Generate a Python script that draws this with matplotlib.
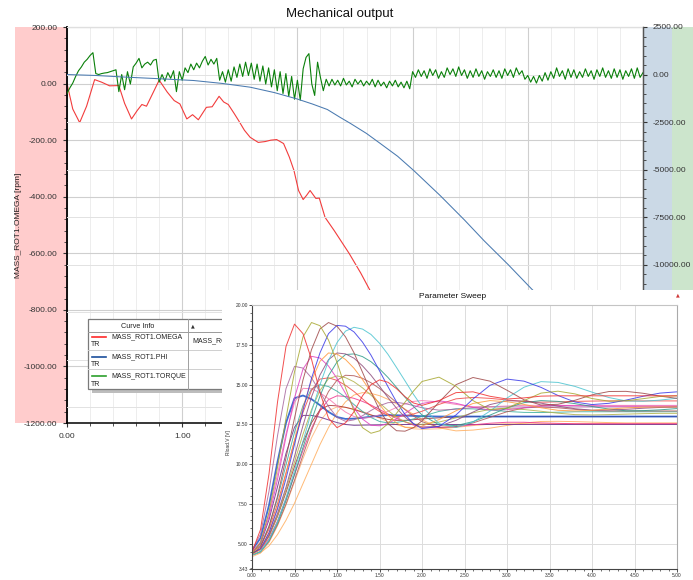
import matplotlib
matplotlib.use('Agg')
import matplotlib.pyplot as plt
from matplotlib.patches import Rectangle
from matplotlib.ticker import MultipleLocator, FormatStrFormatter, FixedLocator
import numpy as np

plt.rcParams['font.family'] = ['Liberation Sans', 'DejaVu Sans']

# ---------------- main chart data ----------------
omega_t = [0, 0.05, 0.11, 0.17, 0.24, 0.30, 0.37, 0.45, 0.50, 0.56, 0.61, 0.65, 0.69, 0.75, 0.80,
           0.87, 0.93, 0.98, 1.04, 1.09, 1.14, 1.21, 1.26, 1.32, 1.36, 1.40, 1.45, 1.49, 1.54, 1.59,
           1.66, 1.72, 1.77, 1.82, 1.88, 1.93, 1.97, 2.01, 2.05, 2.08, 2.11, 2.16, 2.19, 2.24, 2.32,
           2.45, 2.55, 2.63, 2.80, 3.00]
omega = [0, -90, -138, -80, 14, 5, -8, -7, -70, -125, -95, -74, -80, -30, 12,
         -30, -60, -72, -125, -110, -128, -84, -82, -45, -65, -74, -105, -131, -165, -190,
         -208, -205, -200, -198, -212, -260, -307, -378, -410, -395, -378, -406, -405, -473, -520,
         -601, -670, -731, -830, -960]

phi_t = [0, 0.25, 0.52, 0.8, 1.1, 1.35, 1.59, 1.8, 2.0, 2.13, 2.26, 2.37, 2.46, 2.6, 2.72, 2.87,
         3.01, 3.24, 3.45, 3.62, 3.83, 4.03, 4.3]
phi = [0, -50, -140, -220, -315, -470, -666, -950, -1290, -1550, -1840, -2250, -2570, -3100, -3630,
       -4300, -5050, -6370, -7650, -8740, -10000, -11260, -12900]

torque_dt = 0.025
torque = [
    -1000, -700, -450, -100, 200, 400, 650, 800, 1000, 1150,
    50, 0, 50, 80, 100, 150, 200, 250,
    -900, 0, -800, 150, -500, 400, 600, 850, 350, 550,
    650, 500, 750, 800, -400, 0, -350, 100, -200, 200,
    -900, 150, -300, 350, 100, 550, 250, 600, 350, 700,
    950, 500, 800, 550, 850, -300, 150, -400, 250, -350,
    400, -150, 550, -100, 650, -50, 600, -250, 550, -350,
    450, -500, 350, -650, 250, -850, 150, -1000, 50, -1150,
    -100, -1300, -300, -1350, 300, 900, 1100, -500, -1100, 650,
    -150, -850, -250, -600, -250, -550, -300, -600, -200, -550,
    -350, -650, -250, -500, -300, -600, -350, -550, -250, -650,
    -300, -600, -400, -700, -350, -600, -300, -650, -400, -700,
    -350, -750, 150, -150, 250, -100, 200, -200, 300, -50,
    250, -200, 150, -150, 350, 0, 300, -100, 400, -50,
    250, -200, 200, -150, 300, -100, 200, -250, 150, -100,
    250, -150, 200, -200, 300, -50, 250, -150, 350, 0,
    200, -250, -50, -400, -100, -450, -50, -350, 100, -300,
    150, -200, 350, -100, 200, -250, 300, -150, 250, -200,
    150, -150, 300, -100, 200, -250, 250, -100, 350, -150,
    200, -200, 300, -150, 250, -250, 200, -100, 300, -200,
    350, -150, 100]

left_ticks = [-1200, -1000, -800, -600, -400, -200, 0, 200]
right_ticks = [-17500, -15000, -12500, -10000, -7500, -5000, -2500, 0, 2500]

legend_names = ['MASS_ROT1.OMEGA', 'MASS_ROT1.PHI', 'MASS_ROT1.TORQUE']

# ---------------- inset (parameter sweep) data ----------------
sweep_t = [0, 0.1, 0.2, 0.3, 0.4, 0.5, 0.6, 0.7, 0.8, 0.9, 1.0, 1.1, 1.2, 1.3, 1.4, 1.5, 1.6, 1.7,
           1.8, 1.9, 2.0, 2.2, 2.4, 2.6, 2.8, 3.0, 3.2, 3.4, 3.6, 3.8, 4.0, 4.2, 4.4, 4.6, 4.8, 5.0]
sw_red = [4.5, 5.9, 9.4, 13.9, 17.4, 18.8, 18.2, 16.6, 14.5, 12.9, 12.3, 12.6, 13.3, 14.3, 15.0, 15.3, 15.15, 14.75, 14.25, 13.85, 13.7,
          14.0, 14.5, 14.55, 14.27, 14.1, 14.17, 14.28, 14.3, 14.3, 14.3, 14.3, 14.3, 14.3, 14.3, 14.3]
sw_olive = [4.4, 5.1, 7.0, 9.8, 12.9, 15.8, 18.0, 18.9, 18.7, 17.8, 16.4, 14.8, 13.35, 12.3, 11.95, 12.1, 12.55, 13.2, 13.9, 14.6, 15.2,
            15.47, 14.9, 14.0, 13.43, 13.53, 14.0, 14.47, 14.59, 14.42, 14.13, 13.96, 13.99, 14.12, 14.26, 14.3]
sw_brown = [4.4, 4.8, 6.1, 8.0, 10.4, 12.9, 15.3, 17.2, 18.5, 18.9, 18.67, 18.0, 17.0, 15.78, 14.54, 13.42, 12.56, 12.11, 12.08, 12.3, 12.73,
            13.9, 15.0, 15.45, 15.22, 14.65, 14.05, 13.72, 13.77, 14.02, 14.36, 14.57, 14.58, 14.46, 14.28, 14.14]
sw_blue = [4.4, 4.7, 5.7, 7.2, 9.1, 11.25, 13.4, 15.4, 17.0, 18.2, 18.72, 18.67, 18.31, 17.67, 16.85, 15.87, 14.87, 13.92, 13.13, 12.55, 12.24,
           12.38, 13.1, 14.1, 14.96, 15.35, 15.22, 14.83, 14.32, 13.91, 13.75, 13.83, 14.03, 14.27, 14.47, 14.55]
sw_cyan = [4.3, 4.5, 5.26, 6.4, 7.9, 9.6, 11.45, 13.3, 15.0, 16.5, 17.64, 18.36, 18.6, 18.49, 18.15, 17.6, 16.9, 16.08, 15.24, 14.39, 13.62,
           12.56, 12.31, 12.65, 13.34, 14.16, 14.84, 15.19, 15.14, 14.89, 14.53, 14.19, 13.98, 13.96, 14.03, 14.15]
sw_orange = [4.3, 4.67, 5.71, 7.32, 9.38, 11.5, 13.57, 15.25, 16.47, 16.99, 16.92, 16.58, 16.03, 15.32, 14.53, 13.76, 13.08, 12.59, 12.33, 12.31, 12.4,
             12.81, 13.36, 13.82, 14.0, 13.93, 13.76, 13.55, 13.39, 13.35, 13.39, 13.47, 13.54, 13.59, 13.6, 13.6]
sw_plum = [4.4, 4.69, 5.55, 6.92, 8.56, 10.5, 12.43, 14.23, 15.61, 16.57, 16.99, 16.93, 16.66, 16.18, 15.59, 14.9, 14.19, 13.52, 12.96, 12.54, 12.33,
           12.39, 12.76, 13.28, 13.75, 13.99, 13.97, 13.84, 13.65, 13.49, 13.4, 13.41, 13.45, 13.52, 13.57, 13.6]
sw_teal = [4.3, 4.53, 5.21, 6.31, 7.72, 9.36, 11.06, 12.75, 14.29, 15.57, 16.42, 16.89, 16.93, 16.76, 16.44, 15.99, 15.45, 14.83, 14.21, 13.63, 13.1,
           12.48, 12.43, 12.68, 13.09, 13.54, 13.87, 14.0, 13.95, 13.81, 13.63, 13.47, 13.36, 13.37, 13.42, 13.5]
sw_magenta = [4.5, 5.07, 6.7, 9.05, 11.72, 14.17, 15.98, 16.78, 16.67, 16.17, 15.39, 14.45, 13.54, 12.84, 12.45, 12.42, 12.57, 12.85, 13.2, 13.55, 13.82,
              13.99, 13.83, 13.57, 13.41, 13.43, 13.55, 13.67, 13.7, 13.68, 13.66, 13.65, 13.65, 13.65, 13.65, 13.65]
sw_mauve = [4.6, 5.62, 8.31, 11.79, 14.75, 16.15, 16.04, 15.43, 14.54, 13.63, 12.95, 12.7, 12.79, 13.05, 13.38, 13.68, 13.87, 13.89, 13.81, 13.69, 13.55,
            13.4, 13.46, 13.56, 13.6, 13.6, 13.6, 13.6, 13.6, 13.6, 13.6, 13.6, 13.6, 13.6, 13.6, 13.6]
sw_olive2 = [4.4, 4.68, 5.5, 6.77, 8.39, 10.15, 11.89, 13.43, 14.64, 15.37, 15.55, 15.44, 15.18, 14.8, 14.34, 13.85, 13.38, 12.96, 12.67, 12.52, 12.51,
             12.65, 12.92, 13.23, 13.45, 13.5, 13.44, 13.33, 13.21, 13.12, 13.1, 13.12, 13.15, 13.18, 13.2, 13.2]
sw_brown2 = [4.3, 4.51, 5.16, 6.2, 7.5, 9.0, 10.58, 12.11, 13.45, 14.57, 15.28, 15.59, 15.56, 15.4, 15.12, 14.76, 14.33, 13.88, 13.43, 13.03, 12.68,
             12.32, 12.36, 12.6, 12.95, 13.3, 13.54, 13.6, 13.55, 13.45, 13.38, 13.35, 13.35, 13.35, 13.35, 13.35]
sw_red2 = [4.5, 4.87, 5.93, 7.53, 9.48, 11.48, 13.26, 14.64, 15.35, 15.43, 15.27, 14.96, 14.57, 14.11, 13.66, 13.32, 13.08, 13.0, 13.04, 13.16, 13.33,
           13.76, 14.11, 14.2, 14.14, 14.04, 13.94, 13.9, 13.92, 13.95, 13.97, 13.98, 13.98, 13.98, 13.98, 13.98]
sw_orange2 = [4.3, 4.45, 4.88, 5.59, 6.49, 7.56, 8.79, 10.01, 11.24, 12.31, 13.23, 13.92, 14.35, 14.5, 14.45, 14.31, 14.08, 13.8, 13.47, 13.13, 12.8,
              12.29, 12.1, 12.15, 12.27, 12.44, 12.59, 12.69, 12.7, 12.68, 12.65, 12.62, 12.6, 12.6, 12.6, 12.6]
sw_blue2 = [4.6, 5.37, 7.43, 10.16, 12.6, 14.15, 14.32, 14.09, 13.71, 13.29, 12.97, 12.85, 12.87, 12.92, 12.99, 13.05, 13.09, 13.08, 13.06, 13.04, 13.02,
            13.0, 13.0, 13.0, 13.0, 13.0, 13.0, 13.0, 13.0, 13.0, 13.0, 13.0, 13.0, 13.0, 13.0, 13.0]
sw_pink = [4.4, 4.64, 5.34, 6.44, 7.82, 9.35, 10.88, 12.26, 13.36, 14.06, 14.3, 14.26, 14.14, 13.95, 13.72, 13.44, 13.16, 12.88, 12.66, 12.46, 12.34,
           12.31, 12.37, 12.48, 12.58, 12.64, 12.64, 12.6, 12.57, 12.55, 12.55, 12.55, 12.55, 12.55, 12.55, 12.55]
sw_purple = [4.5, 5.03, 6.52, 8.59, 10.69, 12.33, 13.07, 13.07, 12.96, 12.79, 12.62, 12.5, 12.45, 12.46, 12.47, 12.48, 12.49, 12.5, 12.5, 12.5, 12.5,
             12.5, 12.5, 12.5, 12.5, 12.5, 12.5, 12.5, 12.5, 12.5, 12.5, 12.5, 12.5, 12.5, 12.5, 12.5]
sw_peach = [4.2, 4.43, 5.09, 6.14, 7.44, 8.9, 10.36, 11.66, 12.71, 13.37, 13.6, 13.57, 13.47, 13.31, 13.12, 12.9, 12.68, 12.49, 12.33, 12.23, 12.2,
            12.23, 12.32, 12.43, 12.52, 12.55, 12.55, 12.55, 12.55, 12.55, 12.55, 12.55, 12.55, 12.55, 12.55, 12.55]
sw_teal2 = [4.5, 4.92, 6.11, 7.86, 9.96, 12.01, 13.69, 14.73, 15.0, 14.88, 14.59, 14.21, 13.75, 13.32, 12.94, 12.69, 12.6, 12.63, 12.72, 12.85, 13.01,
            13.32, 13.49, 13.48, 13.41, 13.32, 13.26, 13.25, 13.27, 13.3, 13.3, 13.3, 13.3, 13.3, 13.3, 13.3]
sw_rose = [4.5, 5.14, 6.92, 9.39, 11.92, 13.87, 14.77, 14.74, 14.49, 14.12, 13.68, 13.28, 13.0, 12.9, 12.95, 13.11, 13.33, 13.57, 13.79, 13.95, 14.0,
           13.92, 13.76, 13.62, 13.62, 13.66, 13.7, 13.7, 13.7, 13.7, 13.7, 13.7, 13.7, 13.7, 13.7, 13.7]
sw_darkred = [4.4, 4.68, 5.5, 6.73, 8.24, 9.86, 11.38, 12.61, 13.42, 13.7, 13.67, 13.58, 13.44, 13.27, 13.09, 12.94, 12.82, 12.76, 12.76, 12.8, 12.85,
              12.92, 12.97, 13.0, 13.0, 13.0, 13.0, 13.0, 13.0, 13.0, 13.0, 13.0, 13.0, 13.0, 13.0, 13.0]

sweep_curves = [sw_peach, sw_orange2, sw_purple, sw_darkred, sw_pink, sw_blue2, sw_teal2, sw_rose,
                sw_red2, sw_brown2, sw_olive2, sw_mauve, sw_magenta, sw_teal, sw_plum, sw_orange,
                sw_cyan, sw_blue, sw_brown, sw_olive, sw_red]
sweep_colors = ['#FFB677', '#FFAE5E', '#6A2C8A', '#A83030', '#F0368E', '#1F55C8', '#3AAFA0', '#F57AB0',
                '#F24848', '#B05858', '#B2B24A', '#A8669E', '#E040C0', '#2E9C8A', '#8E4F7E', '#FF9A3C',
                '#4CC4D0', '#3A3AE8', '#A04A4A', '#A8A832', '#F03030']
sweep_yticks = [3.43, 5.0, 7.5, 10.0, 12.5, 15.0, 17.5, 20.0]
sweep_xticks = [0, 0.5, 1.0, 1.5, 2.0, 2.5, 3.0, 3.5, 4.0, 4.5, 5.0]

# ---------------- layout helpers ----------------
W, H = 693, 580
fig = plt.figure(figsize=(W / 100, H / 100), dpi=100)


def rect(l, t, r, b):
    return [l / W, 1 - b / H, (r - l) / W, (b - t) / H]


def overlay(z):
    a = fig.add_axes([0, 0, 1, 1], zorder=z)
    a.set_xlim(0, W)
    a.set_ylim(H, 0)
    a.axis('off')
    return a


# background coloured bands
bg = overlay(0)
bg.add_patch(Rectangle((15, 27), 52, 396, facecolor='#FFCCCC', lw=0))
bg.add_patch(Rectangle((643, 27), 29, 396, facecolor='#CBD9E6', lw=0))
bg.add_patch(Rectangle((672, 27), 21, 396, facecolor='#CCE5CC', lw=0))

# ---------------- main axes ----------------
ax = fig.add_axes(rect(67, 27, 643, 423), zorder=1)
ax.set_facecolor('white')
ax.set_xlim(0, 5)
ax.set_ylim(-1200, 200)
ax.xaxis.set_major_locator(MultipleLocator(1))
ax.xaxis.set_minor_locator(MultipleLocator(0.2))
ax.yaxis.set_major_locator(FixedLocator(left_ticks))
ax.yaxis.set_minor_locator(MultipleLocator(40))
ax.xaxis.set_major_formatter(FormatStrFormatter('%.2f'))
ax.yaxis.set_major_formatter(FormatStrFormatter('%.2f'))
ax.set_axisbelow(True)
ax.grid(which='major', color='#CFCFCF', lw=0.8)
ax.grid(which='minor', axis='x', color='#EAEAEA', lw=0.6)
ax.tick_params(which='major', direction='out', length=3, width=0.8, labelsize=6,
               colors='#333333', pad=4)
ax.tick_params(which='minor', direction='out', length=2, width=0.6, colors='#333333')
ax.spines['left'].set_color('black')
ax.spines['left'].set_linewidth(1.3)
ax.spines['bottom'].set_color('black')
ax.spines['bottom'].set_linewidth(1.1)
ax.spines['top'].set_color('#9A9A9A')
ax.spines['top'].set_linewidth(0.8)
ax.spines['right'].set_color('#666666')
ax.set_ylabel('MASS_ROT1.OMEGA [rpm]', fontsize=6, color='#222222')
ax.yaxis.set_label_coords(-0.078, 0.5)
ax.plot(omega_t, omega, color='#F23C3C', lw=0.8)

ax2 = ax.twinx()
ax2.set_ylim(-18330, 2500)
ax2.yaxis.set_major_locator(FixedLocator(right_ticks))
ax2.yaxis.set_minor_locator(MultipleLocator(500))
ax2.yaxis.set_major_formatter(FormatStrFormatter('%.2f'))
ax2.grid(axis='y', color='#E2E2E2', lw=0.7)
ax2.tick_params(which='major', direction='out', length=3, width=0.8, labelsize=6,
                colors='#333333', pad=4)
ax2.tick_params(which='minor', direction='out', length=2, width=0.6, colors='#333333')
ax2.spines['right'].set_color('#555555')
ax2.spines['right'].set_linewidth(1.0)
for s in ['top', 'left', 'bottom']:
    ax2.spines[s].set_visible(False)
torque_t = np.arange(len(torque)) * torque_dt
ax2.plot(torque_t, torque, color='#0A800A', lw=0.8)
ax2.plot(phi_t, phi, color='#4A7AB0', lw=0.75)

fig.text(340 / W, 1 - 14 / H, 'Mechanical output', ha='center', va='center',
         fontsize=9.5, color='#111111', zorder=10)

# ---------------- legend table ----------------
lg = overlay(3)
lg.add_patch(Rectangle((92, 389), 140, 4, facecolor='#BDBDBD', lw=0))
lg.add_patch(Rectangle((88, 319), 150, 70, facecolor='white', edgecolor='#7A7A7A', lw=0.9))
lg.plot([88, 238], [332, 332], color='#9A9A9A', lw=0.7)
lg.plot([88, 238], [350, 350], color='#CFCFCF', lw=0.7)
lg.plot([88, 238], [369, 369], color='#CFCFCF', lw=0.7)
lg.plot([188, 188], [319, 389], color='#A0A0A0', lw=0.7)
lg.text(138, 326, 'Curve Info', ha='center', va='center', fontsize=5.2, color='#222222')
lg.text(193, 326, '▲', ha='center', va='center', fontsize=3.5, color='#333333',
        family='DejaVu Sans')
lg.text(192, 341, 'MASS_RO', ha='left', va='center', fontsize=5.0, color='#222222')
legend_colors = ['#FF2A2A', '#1B4F9C', '#2CA02C']
row_y = [337, 357, 376]
for name, col, yy in zip(legend_names, legend_colors, row_y):
    lg.plot([92, 106], [yy, yy], color=col, lw=1.2)
    lg.text(111, yy, name, ha='left', va='center', fontsize=5.0, color='#222222')
    lg.text(91, yy + 8, 'TR', ha='left', va='center', fontsize=5.0, color='#222222')

# ---------------- inset ----------------
ib = fig.add_axes(rect(222, 290, 693, 580), zorder=4)
ib.set_facecolor('white')
ib.set_xticks([])
ib.set_yticks([])
for s in ib.spines.values():
    s.set_visible(False)

ia = fig.add_axes(rect(252, 305, 677, 569), zorder=5)
for vals, col in zip(sweep_curves, sweep_colors):
    lw = 1.3 if col == '#1F55C8' else 0.7
    ia.plot(sweep_t, vals, color=col, lw=lw, alpha=0.85)
ia.set_xlim(0, 5)
ia.set_ylim(3.43, 20)
ia.xaxis.set_major_locator(FixedLocator(sweep_xticks))
ia.xaxis.set_minor_locator(MultipleLocator(0.1))
ia.yaxis.set_major_locator(FixedLocator(sweep_yticks))
ia.yaxis.set_minor_locator(MultipleLocator(0.5))
ia.xaxis.set_major_formatter(FormatStrFormatter('%.2f'))
ia.yaxis.set_major_formatter(FormatStrFormatter('%.2f'))
ia.set_axisbelow(True)
ia.grid(which='major', color='#DCDCDC', lw=0.7)
ia.tick_params(which='major', direction='out', length=2, width=0.6, labelsize=3.5,
               colors='#333333', pad=1)
ia.tick_params(which='minor', direction='out', length=1.3, width=0.5, colors='#333333')
ia.spines['left'].set_color('#444444')
ia.spines['bottom'].set_color('#444444')
ia.spines['top'].set_color('#C4C4C4')
ia.spines['right'].set_color('#AAAAAA')
ia.set_ylabel('Rload.V [V]', fontsize=3.5, color='#333333')
ia.yaxis.set_label_coords(-0.05, 0.48)

fig.text(453 / W, 1 - 297 / H, 'Parameter Sweep', ha='center', va='center',
         fontsize=6, color='#111111', zorder=10)
fig.text(678 / W, 1 - 295 / H, '▲', ha='center', va='center', fontsize=3.5,
         color='#D03A3A', zorder=10, family='DejaVu Sans')

fig.savefig('out.png', dpi=100)
